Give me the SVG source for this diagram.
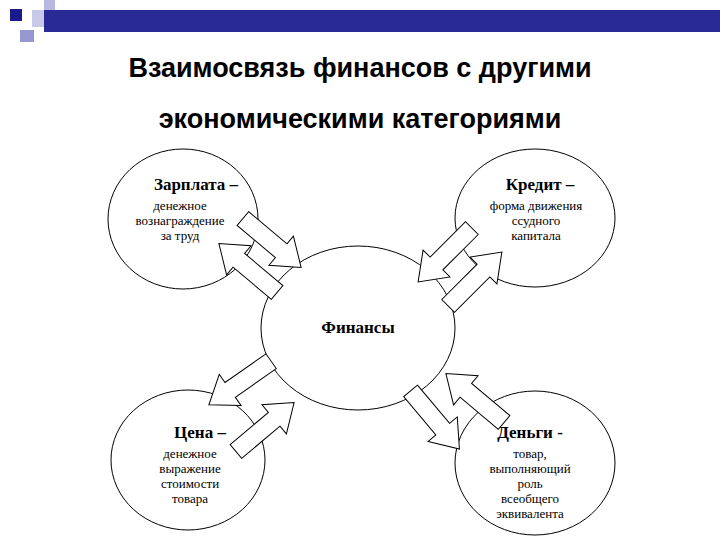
<svg xmlns="http://www.w3.org/2000/svg" width="720" height="540" viewBox="0 0 720 540">
<defs>
<style>
.e{fill:#fff;stroke:#000;stroke-width:1}
.a{fill:#fff;stroke:#000;stroke-width:1}
.t{font-family:"Liberation Sans",Arial,sans-serif;font-weight:bold;font-size:27px;text-anchor:middle}
.h{font-family:"Liberation Serif",serif;font-weight:bold;font-size:17px;text-anchor:middle}
.s{font-family:"Liberation Serif",serif;font-size:13px;text-anchor:middle}
</style>
<polygon id="arr" points="-38,-9 12,-9 12,-19 38,0 12,19 12,9 -38,9"/>
</defs>
<rect width="720" height="540" fill="#fff"/>
<g id="deco">
<rect x="44" y="0" width="11" height="12" fill="#b8b8e0"/>
<rect x="10" y="9" width="12" height="12" fill="#1a1a8c"/>
<rect x="32" y="10" width="23" height="17" fill="#c8c8e8"/>
<rect x="44" y="10" width="676" height="22" fill="#2a2a96"/>
<rect x="20" y="30" width="14" height="12" fill="#9898d0"/>
</g>
<text class="t" x="360" y="77">Взаимосвязь финансов с другими</text>
<text class="t" x="360" y="128">экономическими категориями</text>
<g id="n-zp"><ellipse class="e" cx="183" cy="219" rx="75" ry="70"/>
<text class="h" x="196" y="190">Зарплата –</text>
<text class="s" x="180" y="210">денежное</text><text class="s" x="180" y="225">вознаграждение</text><text class="s" x="180" y="240">за труд</text></g>
<g id="n-kr"><ellipse class="e" cx="535" cy="218" rx="80" ry="69"/>
<text class="h" x="540" y="190">Кредит –</text>
<text class="s" x="536" y="210">форма движения</text><text class="s" x="536" y="225">ссудного</text><text class="s" x="536" y="240">капитала</text></g>
<g id="n-fin"><ellipse class="e" cx="358" cy="328" rx="97" ry="82"/>
<text class="h" x="358" y="333">Финансы</text></g>
<g id="n-cena"><ellipse class="e" cx="188" cy="460" rx="77" ry="70"/>
<text class="h" x="200" y="438">Цена –</text>
<text class="s" x="190" y="458">денежное</text><text class="s" x="190" y="473">выражение</text><text class="s" x="190" y="488">стоимости</text><text class="s" x="190" y="503">товара</text></g>
<g id="n-den"><ellipse class="e" cx="535" cy="463" rx="80" ry="72"/>
<text class="h" x="530" y="438">Деньги -</text>
<text class="s" x="530" y="458">товар,</text><text class="s" x="530" y="473">выполняющий</text><text class="s" x="530" y="488">роль</text><text class="s" x="530" y="503">всеобщего</text><text class="s" x="530" y="518">эквивалента</text></g>
<g id="connectors">
<use href="#arr" class="a" transform="translate(272,243) rotate(40)"/>
<use href="#arr" class="a" transform="translate(248,268) rotate(220)"/>
<use href="#arr" class="a" transform="translate(445,255) rotate(135)"/>
<use href="#arr" class="a" transform="translate(475,279) rotate(-45)"/>
<use href="#arr" class="a" transform="translate(240,383) rotate(145)"/>
<use href="#arr" class="a" transform="translate(265,427) rotate(-40)"/>
<use href="#arr" class="a" transform="translate(475,398) rotate(220)"/>
<use href="#arr" class="a" transform="translate(435,420) rotate(50)"/>
</g>
</svg>
